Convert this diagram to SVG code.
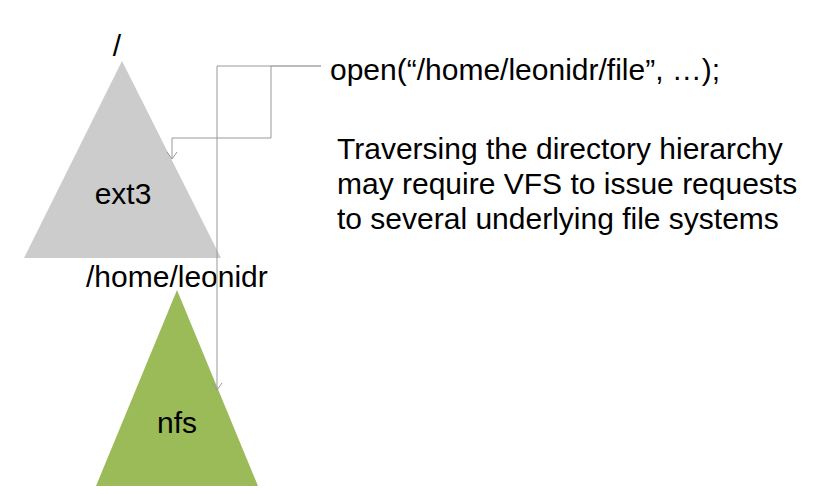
<svg xmlns="http://www.w3.org/2000/svg" width="826" height="494" viewBox="0 0 826 494">
<style>
text{font-family:"Liberation Sans",Arial,sans-serif;font-size:30px;fill:#000}
.c{text-anchor:middle}
.ln{fill:none;stroke:#999;stroke-width:1}
</style>
<defs>
<marker id="arr" markerUnits="userSpaceOnUse" markerWidth="14" markerHeight="14" refX="7" refY="7" orient="auto">
<path d="M0,2 L7,7 L0,12" fill="none" stroke="#999" stroke-width="1"/>
</marker>
</defs>
<rect width="826" height="494" fill="#fff"/>
<g id="ext3">
<polygon points="122,61 24,258 221,258" fill="#cccccc"/>
<text x="117" y="56" class="c">/</text>
<text x="123" y="204" class="c">ext3</text>
</g>
<g id="nfs">
<polygon points="177,290 96,486 258,486" fill="#9bbb59"/>
<text x="86" y="287">/home/leonidr</text>
<text x="177" y="433" class="c">nfs</text>
</g>
<g id="connectors">
<path class="ln" d="M271,66 H217 V390" marker-end="url(#arr)"/>
<path class="ln" d="M271,66 V138 H172 V159" marker-end="url(#arr)"/>
<path d="M321,66 H271" fill="none" stroke="#777" stroke-width="1"/>
</g>
<g id="call">
<text x="330" y="80">open(“/home/leonidr/file”, …);</text>
</g>
<g id="note">
<text x="337" y="159">Traversing the directory hierarchy</text>
<text x="337" y="194">may require VFS to issue requests</text>
<text x="337" y="229">to several underlying file systems</text>
</g>
</svg>
